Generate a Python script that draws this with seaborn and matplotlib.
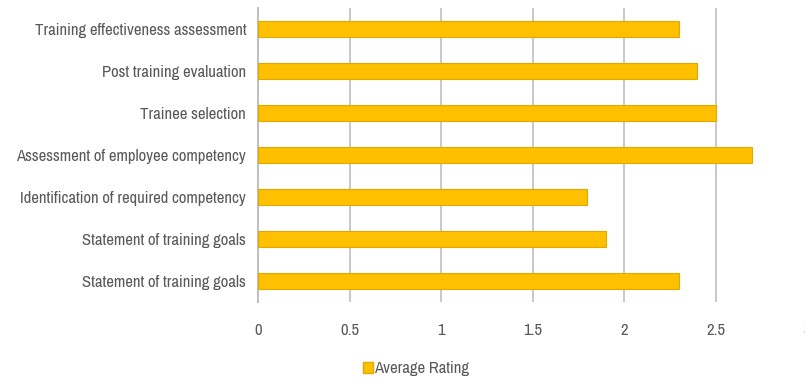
import matplotlib
matplotlib.use("Agg")
import matplotlib.pyplot as plt
import seaborn as sns
import pandas as pd
from matplotlib.patches import Patch

# Données du graphique
categories = [
    "Training effectiveness assessment",
    "Post training evaluation",
    "Trainee selection",
    "Assessment of employee competency",
    "Identification of required competency",
    "Statement of training goals",
    "Statement of training goals",
]
ratings = [2.3, 2.4, 2.5, 2.7, 1.8, 1.9, 2.3]
x_ticks = [0, 0.5, 1, 1.5, 2, 2.5, 3]
series_name = "Average Rating"

# clé unique par ligne (deux libellés identiques)
df = pd.DataFrame({"Key": [f"c{i}" for i in range(len(categories))], "Rating": ratings})

sns.set_theme(style="white")
# Police étroite (type Arial Narrow) si disponible
plt.rcParams["font.family"] = ["Liberation Sans Narrow", "Archivo Narrow", "PT Sans Narrow",
                               "Roboto Condensed", "Liberation Sans", "DejaVu Sans"]

fig = plt.figure(figsize=(8.05, 3.83), dpi=100)
ax = fig.add_axes([258 / 805, 1 - 302 / 383, 549 / 805, 294 / 383])

sns.barplot(data=df, x="Rating", y="Key", orient="h", color="#FFC000", saturation=1,
            width=0.36, edgecolor="#E0A800", linewidth=0.8, ax=ax, zorder=3)

ax.set_xlim(0, 3)
ax.set_ylim(6.5, -0.5)
ax.set_xticks(x_ticks)
ax.set_xticklabels([f"{t:g}" for t in x_ticks])
ax.set_yticks(range(len(categories)))
ax.set_yticklabels(categories)
ax.xaxis.grid(True, color="#C8C8C8", linewidth=1.4, zorder=0)
ax.yaxis.grid(False)
for s in ["top", "right", "bottom"]:
    ax.spines[s].set_visible(False)
ax.spines["left"].set_color("#BFBFBF")
ax.spines["left"].set_linewidth(1.4)
ax.tick_params(axis="both", length=0, colors="#595959", labelsize=12)
ax.tick_params(axis="x", pad=15)
ax.tick_params(axis="y", pad=8.5)
ax.set_xlabel("")
ax.set_ylabel("")

handles = [Patch(facecolor="#FFC000", edgecolor="#E0A800", label=series_name)]
fig.legend(handles=handles, loc="center", bbox_to_anchor=(416 / 805, 1 - 369 / 383),
           frameon=False, fontsize=12, handlelength=0.6, handleheight=0.6,
           handletextpad=0.1, labelcolor="#595959")

fig.savefig("out.png", dpi=100)
